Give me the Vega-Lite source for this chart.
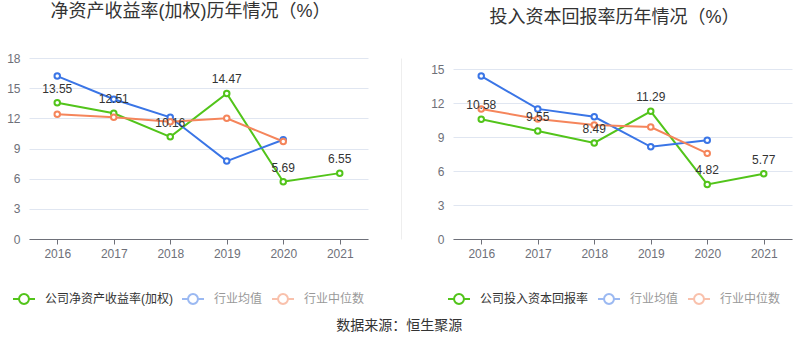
{
  "$schema": "https://vega.github.io/schema/vega-lite/v6.json",
  "padding": {"left": 6, "top": 3, "right": 8, "bottom": 5},
  "bounds": "flush",
  "spacing": 85,
  "config": {
    "font": "Liberation Sans, Noto Sans CJK SC",
    "view": {"stroke": null},
    "axisX": {"labelColor": "#6e7079", "labelFontSize": 12, "domainColor": "#6e7079", "tickColor": "#6e7079", "tickSize": 5, "labelPadding": 4, "grid": false, "title": null, "labelAngle": 0},
    "axisY": {"labelColor": "#6e7079", "labelFontSize": 12, "gridColor": "#e0e6f1", "domain": false, "ticks": false, "labelPadding": 9, "title": null}
  },
  "datasets": {
    "roe": [
      {"year": "2016", "series": "公司净资产收益率(加权)", "value": 13.55},
      {"year": "2017", "series": "公司净资产收益率(加权)", "value": 12.51},
      {"year": "2018", "series": "公司净资产收益率(加权)", "value": 10.16},
      {"year": "2019", "series": "公司净资产收益率(加权)", "value": 14.47},
      {"year": "2020", "series": "公司净资产收益率(加权)", "value": 5.69},
      {"year": "2021", "series": "公司净资产收益率(加权)", "value": 6.55},
      {"year": "2016", "series": "行业均值", "value": 16.2},
      {"year": "2017", "series": "行业均值", "value": 13.9},
      {"year": "2018", "series": "行业均值", "value": 12.1},
      {"year": "2019", "series": "行业均值", "value": 7.75},
      {"year": "2020", "series": "行业均值", "value": 9.87},
      {"year": "2016", "series": "行业中位数", "value": 12.4},
      {"year": "2017", "series": "行业中位数", "value": 12.1},
      {"year": "2018", "series": "行业中位数", "value": 11.65},
      {"year": "2019", "series": "行业中位数", "value": 12.0},
      {"year": "2020", "series": "行业中位数", "value": 9.7}
    ],
    "roic": [
      {"year": "2016", "series": "公司投入资本回报率", "value": 10.58},
      {"year": "2017", "series": "公司投入资本回报率", "value": 9.55},
      {"year": "2018", "series": "公司投入资本回报率", "value": 8.49},
      {"year": "2019", "series": "公司投入资本回报率", "value": 11.29},
      {"year": "2020", "series": "公司投入资本回报率", "value": 4.82},
      {"year": "2021", "series": "公司投入资本回报率", "value": 5.77},
      {"year": "2016", "series": "行业均值", "value": 14.4},
      {"year": "2017", "series": "行业均值", "value": 11.5},
      {"year": "2018", "series": "行业均值", "value": 10.8},
      {"year": "2019", "series": "行业均值", "value": 8.15},
      {"year": "2020", "series": "行业均值", "value": 8.73},
      {"year": "2016", "series": "行业中位数", "value": 11.5},
      {"year": "2017", "series": "行业中位数", "value": 10.6},
      {"year": "2018", "series": "行业中位数", "value": 10.08},
      {"year": "2019", "series": "行业中位数", "value": 9.9},
      {"year": "2020", "series": "行业中位数", "value": 7.57}
    ]
  },
  "hconcat": [
    {
      "width": 339,
      "height": 181,
      "title": {"text": "净资产收益率(加权)历年情况（%）", "fontSize": 18, "fontWeight": "normal", "color": "#333333", "anchor": "middle", "dx": -8, "offset": 31},
      "data": {"name": "roe"},
      "encoding": {
        "x": {"field": "year", "type": "ordinal", "scale": {"type": "point", "padding": 0.5}},
        "y": {"field": "value", "type": "quantitative", "scale": {"domain": [0, 18]}, "axis": {"values": [0, 3, 6, 9, 12, 15, 18]}}
      },
      "layer": [
        {
          "mark": {"type": "line", "strokeWidth": 2, "point": {"filled": false, "fill": "white", "size": 30, "strokeWidth": 2}},
          "encoding": {
            "color": {
              "field": "series", "type": "nominal",
              "scale": {"domain": ["公司净资产收益率(加权)", "行业均值", "行业中位数"], "range": ["#52c41a", "#3a75e6", "#f5855b"]},
              "legend": {
                "orient": "none", "legendX": -17, "legendY": 229, "direction": "horizontal", "title": null,
                "symbolType": "M-1,0L-0.45,0M0.45,0L1,0M-0.45,0A0.45,0.45,0,1,1,0.45,0A0.45,0.45,0,1,1,-0.45,0",
                "symbolSize": 484, "symbolStrokeWidth": 2, "symbolFillColor": "white",
                "labelFontSize": 12, "labelOffset": 9, "columnPadding": 5,
                "encode": {
                  "symbols": {"update": {"opacity": {"signal": "datum.label === '公司净资产收益率(加权)' ? 1 : 0.5"}}},
                  "labels": {"update": {"fill": {"signal": "datum.label === '公司净资产收益率(加权)' ? '#333333' : '#999999'"}}}
                }
              }
            }
          }
        },
        {
          "transform": [{"filter": "datum.series === '公司净资产收益率(加权)'"}],
          "mark": {"type": "text", "dy": -7, "baseline": "bottom", "fontSize": 12, "color": "#333333"},
          "encoding": {"text": {"field": "value", "type": "quantitative", "format": ".2f"}}
        }
      ]
    },
    {
      "width": 339,
      "height": 181,
      "title": {"text": "投入资本回报率历年情况（%）", "fontSize": 18, "fontWeight": "normal", "color": "#333333", "anchor": "middle", "dx": -8, "offset": 31},
      "data": {"name": "roic"},
      "encoding": {
        "x": {"field": "year", "type": "ordinal", "scale": {"type": "point", "padding": 0.5}}
      },
      "layer": [
        {
          "mark": {"type": "line", "strokeWidth": 2, "point": {"filled": false, "fill": "white", "size": 30, "strokeWidth": 2}},
          "encoding": {
            "y": {"field": "value", "type": "quantitative", "scale": {"domain": [0, 15]}, "axis": {"values": [0, 3, 6, 9, 12, 15]}},
            "color": {
              "field": "series", "type": "nominal",
              "scale": {"domain": ["公司投入资本回报率", "行业均值", "行业中位数"], "range": ["#52c41a", "#3a75e6", "#f5855b"]},
              "legend": {
                "orient": "none", "legendX": -6, "legendY": 229, "direction": "horizontal", "title": null,
                "symbolType": "M-1,0L-0.45,0M0.45,0L1,0M-0.45,0A0.45,0.45,0,1,1,0.45,0A0.45,0.45,0,1,1,-0.45,0",
                "symbolSize": 484, "symbolStrokeWidth": 2, "symbolFillColor": "white",
                "labelFontSize": 12, "labelOffset": 9, "columnPadding": 5,
                "encode": {
                  "symbols": {"update": {"opacity": {"signal": "datum.label === '公司投入资本回报率' ? 1 : 0.5"}}},
                  "labels": {"update": {"fill": {"signal": "datum.label === '公司投入资本回报率' ? '#333333' : '#999999'"}}}
                }
              }
            }
          }
        },
        {
          "transform": [{"filter": "datum.series === '公司投入资本回报率'"}],
          "mark": {"type": "text", "dy": -7, "baseline": "bottom", "fontSize": 12, "color": "#333333"},
          "encoding": {
            "y": {"field": "value", "type": "quantitative", "axis": {"orient": "left", "offset": 52, "labels": false, "ticks": false, "grid": false, "domain": true, "domainColor": "#eeeeee", "title": null}},
            "text": {"field": "value", "type": "quantitative", "format": ".2f"}
          }
        }
      ],
      "resolve": {"axis": {"y": "independent"}}
    }
  ],
  "resolve": {"scale": {"color": "independent", "y": "independent"}},
  "title": {"text": "数据来源：恒生聚源", "orient": "bottom", "anchor": "middle", "fontSize": 14, "fontWeight": "normal", "color": "#333333", "offset": 11}
}
